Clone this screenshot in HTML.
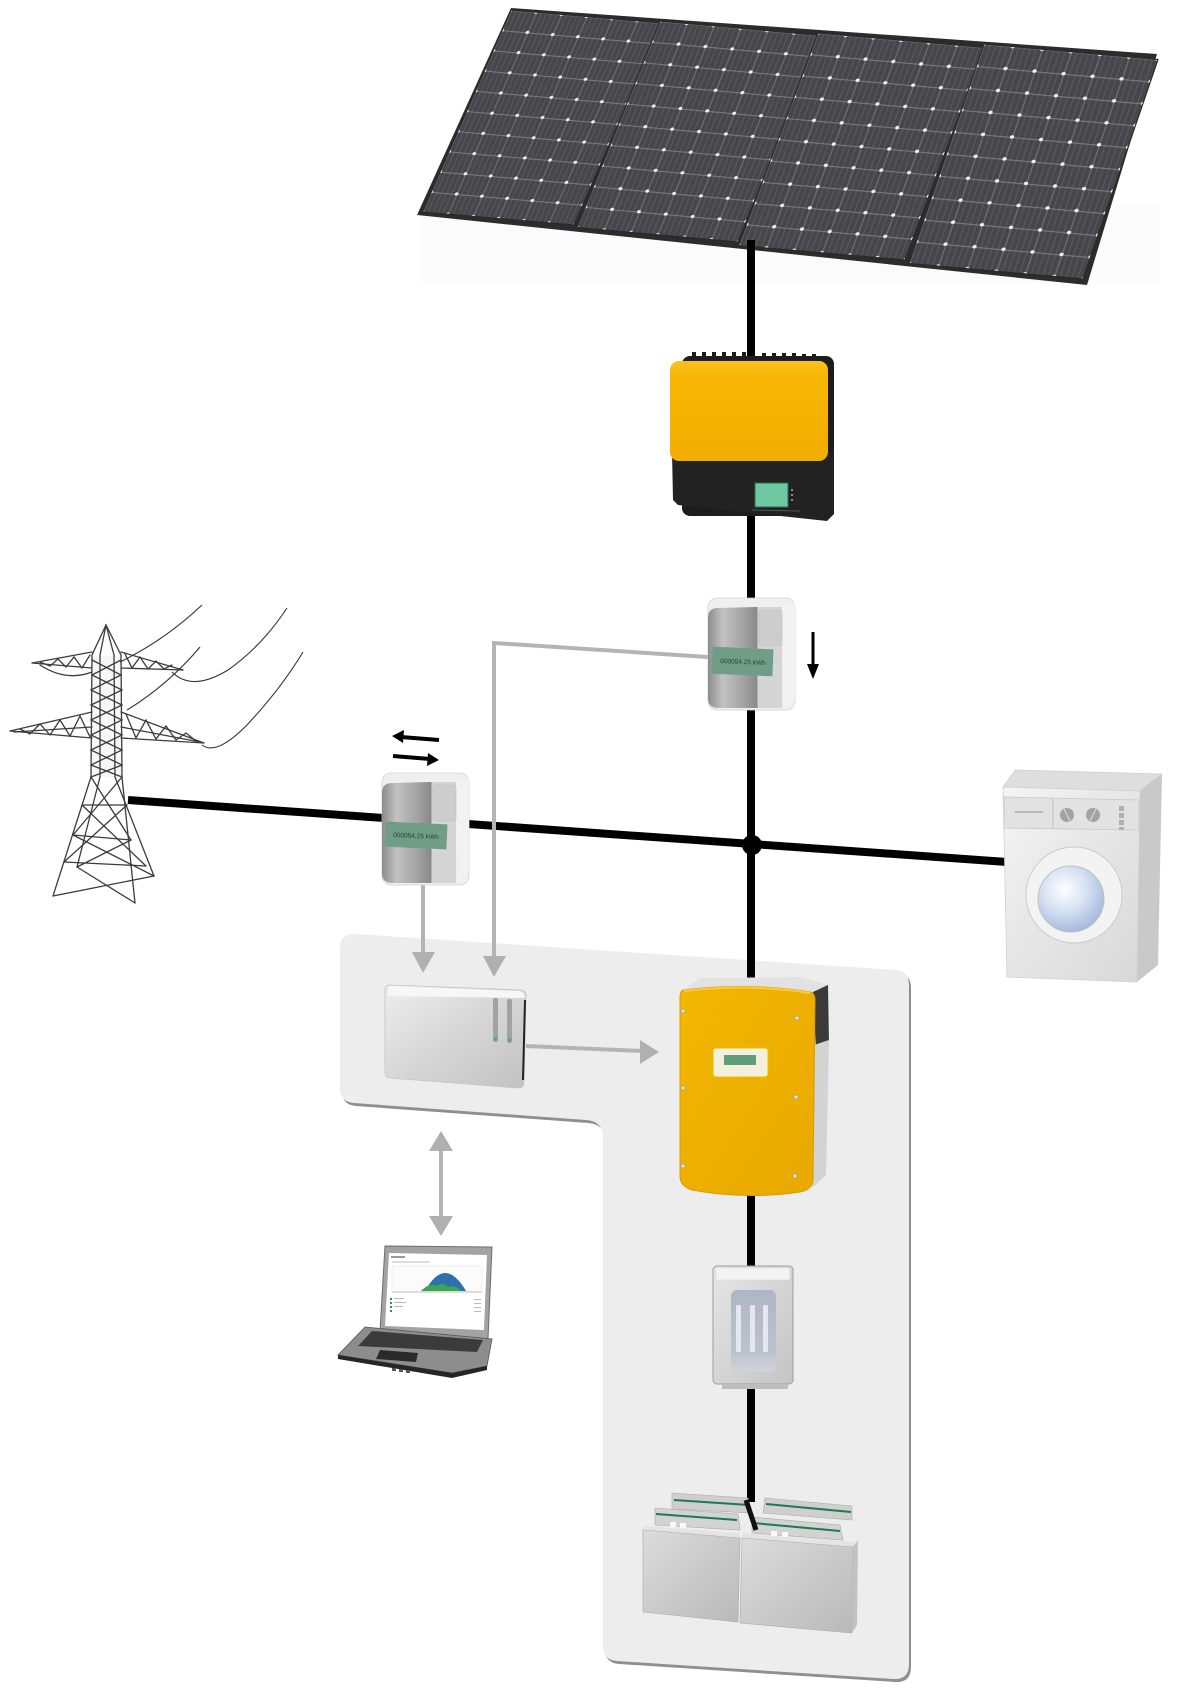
<!DOCTYPE html>
<html><head><meta charset="utf-8">
<style>html,body{margin:0;padding:0;background:#fff;}svg{display:block;}</style>
</head><body>
<svg width="1181" height="1703" viewBox="0 0 1181 1703" xmlns="http://www.w3.org/2000/svg">
<defs>
  <pattern id="cells" patternUnits="userSpaceOnUse" width="1" height="1">
    <rect width="1" height="1" fill="#47474b"/>
    <rect x="0.2" width="0.025" height="1" fill="#626267"/>
    <rect x="0.4" width="0.025" height="1" fill="#626267"/>
    <rect x="0.6" width="0.025" height="1" fill="#626267"/>
    <rect x="0.8" width="0.025" height="1" fill="#626267"/>
    <rect x="0" width="0.045" height="1" fill="#6e6e73"/>
    <rect y="0" width="1" height="0.05" fill="#7a7a7f"/>
    <ellipse cx="0" cy="0" rx="0.07" ry="0.08" fill="#f2f2f2"/>
    <ellipse cx="1" cy="0" rx="0.07" ry="0.08" fill="#f2f2f2"/>
    <ellipse cx="0" cy="1" rx="0.07" ry="0.08" fill="#f2f2f2"/>
    <ellipse cx="1" cy="1" rx="0.07" ry="0.08" fill="#f2f2f2"/>
  </pattern>
  <linearGradient id="yel1" x1="0" y1="0" x2="0" y2="1">
    <stop offset="0" stop-color="#fbc21f"/><stop offset="0.15" stop-color="#f7b604"/><stop offset="1" stop-color="#f2ad00"/>
  </linearGradient>
  <linearGradient id="yel2" x1="0" y1="0" x2="1" y2="1">
    <stop offset="0" stop-color="#f3b600"/><stop offset="1" stop-color="#e9a900"/>
  </linearGradient>
  <linearGradient id="mtrL" x1="0" y1="0" x2="1" y2="0">
    <stop offset="0" stop-color="#8c8c8c"/><stop offset="0.3" stop-color="#c2c2c2"/><stop offset="0.7" stop-color="#a4a4a4"/><stop offset="1" stop-color="#8a8a8a"/>
  </linearGradient>
  <linearGradient id="ctrl" x1="0" y1="0" x2="1" y2="1">
    <stop offset="0" stop-color="#eeeeee"/><stop offset="0.5" stop-color="#d6d6d6"/><stop offset="1" stop-color="#c2c2c2"/>
  </linearGradient>
  <linearGradient id="fuse" x1="0" y1="0" x2="1" y2="1">
    <stop offset="0" stop-color="#e6e6e6"/><stop offset="1" stop-color="#c4c4c4"/>
  </linearGradient>
  <linearGradient id="win" x1="0" y1="0" x2="0" y2="1">
    <stop offset="0" stop-color="#aeb6c6"/><stop offset="0.75" stop-color="#bcc2cd"/><stop offset="1" stop-color="#d0d3d8"/>
  </linearGradient>
  <linearGradient id="bat" x1="0" y1="0" x2="1" y2="1">
    <stop offset="0" stop-color="#dcdcdc"/><stop offset="1" stop-color="#b9b9b9"/>
  </linearGradient>
  <linearGradient id="wm" x1="0" y1="0" x2="1" y2="1">
    <stop offset="0" stop-color="#f4f4f4"/><stop offset="1" stop-color="#d8d8d8"/>
  </linearGradient>
  <radialGradient id="door" cx="0.4" cy="0.35" r="0.7">
    <stop offset="0" stop-color="#ffffff"/><stop offset="0.5" stop-color="#d4e0f2"/><stop offset="1" stop-color="#9fb5da"/>
  </radialGradient>
</defs>

<!-- faint backdrop behind panel -->
<rect x="420" y="205" width="740" height="78" fill="#fbfbfb"/>

<!-- Solar panel -->
<polygon points="511,8 1157,54 1087,285 417,215" fill="#2c2c2e"/>
<g transform="matrix(25.25 2.167 -8.85 20.2 511 10)"><rect width="6" height="10" fill="url(#cells)" stroke="#2a2a2c" stroke-width="1.2" vector-effect="non-scaling-stroke"/></g>
<g transform="matrix(26.83 2.417 -8.3 20.65 660 21)"><rect width="6" height="10" fill="url(#cells)" stroke="#2a2a2c" stroke-width="1.2" vector-effect="non-scaling-stroke"/></g>
<g transform="matrix(27.75 2.417 -7.95 21.25 818 33)"><rect width="6" height="10" fill="url(#cells)" stroke="#2a2a2c" stroke-width="1.2" vector-effect="non-scaling-stroke"/></g>
<g transform="matrix(29.0 2.583 -7.5 21.95 984 44)"><rect width="6" height="10" fill="url(#cells)" stroke="#2a2a2c" stroke-width="1.2" vector-effect="non-scaling-stroke"/></g>

<!-- shaded system region -->
<path transform="translate(2,3)" d="M 355,934 L 896,970 Q 909,971 909,985 L 909,1664 Q 909,1680 893,1679 L 617,1661 Q 603,1660 603,1646 L 603,1138 Q 603,1121 586,1120 L 354,1103 Q 340,1102 340,1088 L 340,948 Q 340,933 355,934 Z" fill="#8f8f8f"/>
<path d="M 355,934 L 896,970 Q 909,971 909,985 L 909,1664 Q 909,1680 893,1679 L 617,1661 Q 603,1660 603,1646 L 603,1138 Q 603,1121 586,1120 L 354,1103 Q 340,1102 340,1088 L 340,948 Q 340,933 355,934 Z" fill="#ecedec"/>

<!-- black power lines -->
<line x1="751" y1="240" x2="751" y2="1502" stroke="#000" stroke-width="8"/>
<line x1="128" y1="800" x2="1007" y2="862" stroke="#000" stroke-width="8"/>
<circle cx="752" cy="845" r="10" fill="#000"/>

<!-- gray signal connectors -->
<g stroke="#b4b4b4" stroke-width="4" fill="none">
  <polyline points="708,657 494,643 494,958"/>
  <line x1="423" y1="884" x2="423" y2="955"/>
  <line x1="526" y1="1046" x2="643" y2="1051"/>
  <line x1="441" y1="1146" x2="441" y2="1220"/>
</g>
<g fill="#b0b0b0">
  <polygon points="483,956 506,956 494,977"/>
  <polygon points="412,952 435,952 423,973"/>
  <polygon points="640,1040 659,1052 640,1064"/>
  <polygon points="441,1131 429,1151 453,1151"/>
  <polygon points="441,1236 429,1216 453,1216"/>
</g>

<!-- black direction arrows -->
<line x1="813" y1="632" x2="813" y2="667" stroke="#000" stroke-width="3"/>
<polygon points="807,664 819,664 813,679" fill="#000"/>
<line x1="439" y1="740" x2="401" y2="737" stroke="#000" stroke-width="4"/>
<polygon points="392,736 404,730 403,743" fill="#000"/>
<line x1="393" y1="756" x2="430" y2="759" stroke="#000" stroke-width="4"/>
<polygon points="439,760 428,753 427,766" fill="#000"/>

<!-- Inverter 1 (PV) -->
<g fill="#1d1d1d">
  <rect x="692" y="352" width="4" height="5"/><rect x="702" y="352" width="4" height="5"/><rect x="712" y="352" width="4" height="5"/>
  <rect x="722" y="352" width="4" height="5"/><rect x="732" y="352" width="4" height="5"/><rect x="742" y="352" width="4" height="5"/>
  <rect x="762" y="353" width="4" height="5"/><rect x="772" y="353" width="4" height="5"/><rect x="782" y="353" width="4" height="5"/>
  <rect x="792" y="353" width="4" height="5"/><rect x="802" y="354" width="4" height="5"/><rect x="812" y="354" width="4" height="5"/>
</g>
<rect x="682" y="356" width="152" height="160" rx="8" fill="#1d1d1d"/>
<polygon points="672,452 834,452 834,514 827,521 678,505 673,500" fill="#222"/>
<rect x="670" y="361" width="158" height="100" rx="9" fill="url(#yel1)"/>
<rect x="755" y="483" width="33" height="24" fill="#6ec9a0" stroke="#2d6b52" stroke-width="1"/>
<rect x="791" y="489" width="2" height="2" fill="#888"/><rect x="791" y="494" width="2" height="2" fill="#888"/><rect x="791" y="499" width="2" height="2" fill="#888"/>
<line x1="752" y1="510" x2="800" y2="511" stroke="#555" stroke-width="1"/>

<!-- Meter 2 (PV meter) -->
<g transform="translate(708,598)">
  <rect x="0" y="0" width="87" height="112" rx="9" fill="#efefef" stroke="#d2d2d2" stroke-width="0.8"/>
  <polygon points="74,8 87,4 87,100 76,111" fill="#f2f2f2"/>
  <path d="M 10,10 L 49,9 L 49,110 L 10,110 Q 0,110 0,100 L 0,20 Q 0,10 10,10 Z" fill="url(#mtrL)"/>
  <rect x="49" y="9" width="25" height="101" fill="#d5d5d5"/>
  <line x1="49" y1="9" x2="49" y2="110" stroke="#8a8a8a" stroke-width="1"/>
  <rect x="51" y="12" width="23" height="36" rx="3" fill="#cdcdcd" stroke="#bdbdbd" stroke-width="0.6"/>
  <g transform="rotate(2.5 35 63)">
    <rect x="4" y="50" width="61" height="27" fill="#6f9d87"/>
    <text x="35" y="66" font-family="Liberation Sans, sans-serif" font-size="6.5" fill="#2e4038" text-anchor="middle">000054,25  kWh</text>
  </g>
</g>

<!-- Meter 1 (grid meter) -->
<g transform="translate(382,773)">
  <rect x="0" y="0" width="87" height="112" rx="9" fill="#efefef" stroke="#d2d2d2" stroke-width="0.8"/>
  <polygon points="74,8 87,4 87,100 76,111" fill="#f2f2f2"/>
  <path d="M 10,10 L 49,9 L 49,110 L 10,110 Q 0,110 0,100 L 0,20 Q 0,10 10,10 Z" fill="url(#mtrL)"/>
  <rect x="49" y="9" width="25" height="101" fill="#d5d5d5"/>
  <line x1="49" y1="9" x2="49" y2="110" stroke="#8a8a8a" stroke-width="1"/>
  <rect x="51" y="12" width="23" height="36" rx="3" fill="#cdcdcd" stroke="#bdbdbd" stroke-width="0.6"/>
  <g transform="rotate(2.5 34 62)">
    <rect x="3" y="50" width="62" height="25" fill="#6f9d87"/>
    <text x="34" y="65" font-family="Liberation Sans, sans-serif" font-size="6.5" fill="#2e4038" text-anchor="middle">000054,25  kWh</text>
  </g>
</g>

<!-- Power tower -->
<g stroke="#3c3c3c" stroke-width="1.3" fill="none" stroke-linecap="round">
  <polygon points="92,656 121,656 122,777 91,777" fill="#f7f7f7" stroke="none"/>
  <polyline points="92,655 106,625 121,655"/>
  <line x1="106" y1="625" x2="100" y2="655"/><line x1="106" y1="625" x2="114" y2="655"/>
  <line x1="92" y1="655" x2="91" y2="777"/><line x1="121" y1="655" x2="122" y2="777"/>
  <line x1="100" y1="655" x2="100" y2="777"/><line x1="114" y1="655" x2="115" y2="777"/>
  <polyline points="92,660 121,675 91,690 122,705 91,720 122,735 91,750 122,765 91,777"/>
  <polyline points="121,660 92,675 122,690 91,705 122,720 91,735 122,750 91,765 122,777"/>
  <line x1="32" y1="663" x2="92" y2="652"/><line x1="32" y1="663" x2="92" y2="668"/>
  <path d="M 40,665 Q 66,682 92,672"/>
  <polyline points="40,662 50,666 58,659 66,667 74,657 82,668 90,655"/>
  <line x1="121" y1="652" x2="183" y2="670"/><line x1="121" y1="668" x2="183" y2="670"/>
  <polyline points="125,654 132,668 140,657 148,669 156,661 164,669 172,665"/>
  <line x1="10" y1="731" x2="92" y2="712"/><line x1="10" y1="731" x2="92" y2="738"/><line x1="14" y1="732" x2="92" y2="727"/>
  <polyline points="20,729 30,734 40,724 50,735 60,720 70,736 80,716 90,737"/>
  <line x1="121" y1="712" x2="204" y2="743"/><line x1="121" y1="738" x2="204" y2="743"/><line x1="121" y1="727" x2="200" y2="742"/>
  <polyline points="126,714 136,738 146,720 156,739 166,726 176,740 186,733 196,741"/>
  <line x1="91" y1="777" x2="53" y2="896"/><line x1="122" y1="777" x2="135" y2="903"/>
  <line x1="100" y1="777" x2="77" y2="867"/><line x1="115" y1="777" x2="154" y2="876"/>
  <line x1="82" y1="805" x2="127" y2="805"/><line x1="73" y1="835" x2="131" y2="840"/><line x1="64" y1="862" x2="146" y2="866"/>
  <line x1="91" y1="777" x2="131" y2="840"/><line x1="122" y1="777" x2="73" y2="835"/>
  <line x1="82" y1="805" x2="146" y2="866"/><line x1="127" y1="805" x2="64" y2="862"/>
  <line x1="77" y1="867" x2="135" y2="903"/><line x1="154" y1="876" x2="53" y2="896"/>
  <line x1="73" y1="835" x2="154" y2="876"/><line x1="131" y1="840" x2="77" y2="867"/>
</g>
<g stroke="#333" stroke-width="1.1" fill="none">
  <path d="M 120,662 Q 165,640 202,605"/>
  <path d="M 127,710 Q 168,685 200,647"/>
  <path d="M 172,672 Q 192,692 228,670 Q 262,646 287,608"/>
  <path d="M 202,745 Q 216,756 246,726 Q 280,690 303,652"/>
</g>

<!-- Washing machine -->
<polygon points="1015,770 1162,774 1140,791 1003,787" fill="#dedede" stroke="#cfcfcf" stroke-width="0.8"/>
<polygon points="1140,791 1162,774 1158,965 1137,982" fill="#c9c9c9"/>
<polygon points="1003,787 1140,791 1137,982 1007,977" fill="url(#wm)" stroke="#d0d0d0" stroke-width="0.8"/>
<polygon points="1004,797 1139,800 1139,830 1004,828" fill="#e2e2e2" stroke="#c8c8c8" stroke-width="0.8"/>
<line x1="1053" y1="798" x2="1053" y2="829" stroke="#c2c2c2"/>
<line x1="1015" y1="812" x2="1043" y2="812" stroke="#b8b8b8" stroke-width="2"/>
<circle cx="1067" cy="815" r="7" fill="#a2a2a2"/><circle cx="1093" cy="815" r="7" fill="#a2a2a2"/>
<line x1="1064" y1="809" x2="1070" y2="821" stroke="#ddd" stroke-width="1"/><line x1="1096" y1="809" x2="1090" y2="821" stroke="#ddd" stroke-width="1"/>
<rect x="1119" y="806" width="5" height="5" fill="#b0b0b0"/><rect x="1119" y="813" width="5" height="5" fill="#b0b0b0"/><rect x="1119" y="820" width="5" height="5" fill="#b0b0b0"/><rect x="1119" y="827" width="5" height="3" fill="#b0b0b0"/>
<circle cx="1074" cy="895" r="48" fill="#f3f3f3" stroke="#cbcbcb" stroke-width="1"/>
<circle cx="1071" cy="899" r="33" fill="url(#door)" stroke="#c0c0c0" stroke-width="1"/>

<!-- Controller (Home Manager) -->
<path d="M 390,985 L 520,990 Q 526,990 526,996 L 524,1082 Q 524,1088 518,1088 L 390,1078 Q 385,1078 385,1072 L 385,991 Q 385,985 390,985 Z" fill="url(#ctrl)" stroke="#c4c4c4" stroke-width="0.8"/>
<path d="M 389,986 L 520,991 Q 525,992 525,998 L 388,996 Z" fill="#f7f7f7"/>
<line x1="525" y1="1000" x2="523" y2="1080" stroke="#222" stroke-width="2"/>
<rect x="493" y="998" width="5" height="44" rx="2" fill="#a2a2a2"/>
<rect x="507" y="999" width="5" height="44" rx="2" fill="#a2a2a2"/>
<circle cx="495.5" cy="1039" r="1.6" fill="#3fae80"/><circle cx="509.5" cy="1040" r="1.6" fill="#3fae80"/>

<!-- Inverter 2 (battery inverter) -->
<polygon points="700,978 800,977 828,985 815,993 683,990" fill="#e2e2e2"/>
<polygon points="813,992 828,985 829,1043 816,1050" fill="#3a3a3a"/>
<polygon points="814,1045 829,1040 826,1175 812,1188" fill="#d3d3d3"/>
<path d="M 684,990 Q 746,982 810,992 Q 815,993 815,1000 L 813,1180 Q 812,1190 800,1192 Q 746,1200 692,1190 Q 680,1186 680,1176 L 680,998 Q 680,990 684,990 Z" fill="url(#yel2)" stroke="#d89b00" stroke-width="1"/>
<path d="M 684,991 Q 746,983 810,993" stroke="#f8cc40" stroke-width="2" fill="none"/>
<rect x="713" y="1048" width="55" height="29" rx="3" fill="#f3f0dc" stroke="#e5c000" stroke-width="1"/>
<rect x="724" y="1055" width="32" height="10" fill="#5e9c7b"/>
<g fill="#ececec" stroke="#8a8a8a" stroke-width="0.5">
  <circle cx="683" cy="1011" r="2"/><circle cx="797" cy="1018" r="2"/>
  <circle cx="683" cy="1088" r="2"/><circle cx="796" cy="1097" r="2"/>
  <circle cx="683" cy="1166" r="2"/><circle cx="795" cy="1176" r="2"/>
</g>

<!-- Fuse box -->
<rect x="713" y="1266" width="80" height="118" rx="4" fill="url(#fuse)" stroke="#9c9c9c" stroke-width="1"/>
<rect x="716" y="1268" width="74" height="12" rx="2" fill="#f3f3f3" stroke="#d8d8d8" stroke-width="0.6"/>
<rect x="731" y="1290" width="45" height="82" rx="6" fill="url(#win)"/>
<rect x="736" y="1305" width="5" height="47" rx="1.5" fill="#e4e8ee"/>
<rect x="750" y="1305" width="5" height="47" rx="1.5" fill="#e4e8ee"/>
<rect x="763" y="1305" width="5" height="47" rx="1.5" fill="#e4e8ee"/>
<rect x="722" y="1384" width="66" height="5" fill="#bdbdbd"/>

<!-- Batteries -->
<polygon points="672,1493 748,1498 752,1513 672,1509" fill="#cfcfcf" stroke="#aaa" stroke-width="0.6"/>
<line x1="674" y1="1500" x2="749" y2="1505" stroke="#1d7a55" stroke-width="2"/>
<polygon points="765,1498 852,1506 852,1520 763,1513" fill="#cfcfcf" stroke="#aaa" stroke-width="0.6"/>
<line x1="766" y1="1504" x2="851" y2="1512" stroke="#1d7a55" stroke-width="2"/>
<polygon points="643,1526 740,1533 740,1538 643,1530" fill="#e4e4e4"/>
<polygon points="742,1533 856,1542 856,1547 742,1538" fill="#e4e4e4"/>
<polygon points="655,1508 738,1514 740,1530 655,1525" fill="#d3d3d3" stroke="#a8a8a8" stroke-width="0.6"/>
<line x1="656" y1="1514" x2="737" y2="1520" stroke="#1d7a55" stroke-width="2"/>
<polygon points="752,1517 840,1525 843,1540 752,1533" fill="#d3d3d3" stroke="#a8a8a8" stroke-width="0.6"/>
<line x1="753" y1="1523" x2="840" y2="1531" stroke="#1d7a55" stroke-width="2"/>
<rect x="670" y="1522" width="6" height="5" fill="#fafafa"/><rect x="680" y="1523" width="6" height="5" fill="#fafafa"/>
<rect x="771" y="1531" width="6" height="5" fill="#fafafa"/><rect x="782" y="1532" width="6" height="5" fill="#fafafa"/>
<line x1="746" y1="1500" x2="756" y2="1530" stroke="#111" stroke-width="5"/>
<polygon points="643,1530 740,1538 738,1622 643,1612" fill="url(#bat)" stroke="#aaa" stroke-width="0.6"/>
<polygon points="742,1538 853,1547 852,1633 740,1623" fill="url(#bat)" stroke="#aaa" stroke-width="0.6"/>
<polygon points="853,1547 858,1540 857,1625 852,1633" fill="#c2c2c2"/>

<!-- Laptop -->
<polygon points="385,1246 492,1247 488,1339 380,1331" fill="#a3a3a3" stroke="#6c6c6c" stroke-width="1"/>
<polygon points="389,1253 487,1255 484,1330 385,1326" fill="#ffffff"/>
<rect x="391" y="1256" width="14" height="2" fill="#999"/>
<rect x="392" y="1261" width="38" height="2" fill="#ddd"/>
<rect x="392" y="1266" width="90" height="26" fill="#fbfbfb" stroke="#e2e2e2" stroke-width="0.5"/>
<path d="M 425,1291 Q 445,1255 466,1291 Z" fill="#2e6fae"/>
<path d="M 421,1291 Q 430,1282 437,1286 Q 443,1281 448,1287 Q 455,1284 461,1291 Z" fill="#3aa653"/>
<line x1="392" y1="1292" x2="482" y2="1292" stroke="#bbb" stroke-width="1"/>
<g fill="#3a8c66"><rect x="390" y="1298" width="2" height="2"/><rect x="390" y="1302" width="2" height="2"/><rect x="390" y="1306" width="2" height="2"/><rect x="390" y="1310" width="2" height="2"/></g>
<g fill="#bbb"><rect x="394" y="1298" width="10" height="1"/><rect x="394" y="1302" width="12" height="1"/><rect x="394" y="1306" width="9" height="1"/><rect x="474" y="1299" width="7" height="1"/><rect x="474" y="1303" width="7" height="1"/><rect x="474" y="1307" width="7" height="1"/><rect x="474" y="1311" width="7" height="1"/></g>
<polygon points="365,1327 492,1339 487,1366 452,1373 338,1355" fill="#8d8d8d" stroke="#555" stroke-width="0.8"/>
<polygon points="372,1331 483,1340 477,1352 358,1346" fill="#3b3b3b"/>
<polygon points="380,1350 418,1353 416,1362 376,1359" fill="#2a2a2a"/>
<polygon points="338,1355 452,1373 487,1366 487,1370 452,1378 338,1359" fill="#262626"/>
<rect x="392" y="1368" width="4" height="3" fill="#555"/><rect x="399" y="1369" width="4" height="3" fill="#555"/><rect x="406" y="1370" width="4" height="3" fill="#555"/>
</svg>
</body></html>
